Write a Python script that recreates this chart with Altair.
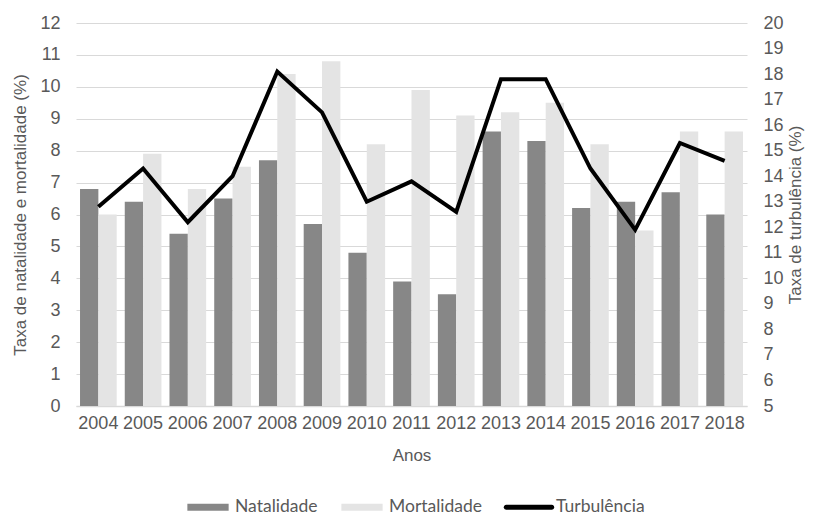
import altair as alt
import pandas as pd

anos = ["2004", "2005", "2006", "2007", "2008", "2009", "2010", "2011",
        "2012", "2013", "2014", "2015", "2016", "2017", "2018"]
natalidade = [6.8, 6.4, 5.4, 6.5, 7.7, 5.7, 4.8, 3.9, 3.5, 8.6, 8.3, 6.2, 6.4, 6.7, 6.0]
mortalidade = [6.0, 7.9, 6.8, 7.5, 10.4, 10.8, 8.2, 9.9, 9.1, 9.2, 9.5, 8.2, 5.5, 8.6, 8.6]
turbulencia = [12.8, 14.3, 12.2, 14.0, 18.1, 16.5, 13.0, 13.8, 12.6, 17.8, 17.8, 14.3, 11.9, 15.3, 14.6]
series = ["Natalidade", "Mortalidade", "Turbulência"]
cores = ["#878787", "#e4e4e4", "#000000"]
ticks_esq = [0, 1, 2, 3, 4, 5, 6, 7, 8, 9, 10, 11, 12]
ticks_dir = [5, 6, 7, 8, 9, 10, 11, 12, 13, 14, 15, 16, 17, 18, 19, 20]

rows = []
for a, n, m in zip(anos, natalidade, mortalidade):
    rows.append({"Ano": a, "Serie": "Natalidade", "Valor": n})
    rows.append({"Ano": a, "Serie": "Mortalidade", "Valor": m})
df_bars = pd.DataFrame(rows)
df_line = pd.DataFrame({"Ano": anos, "Turb": turbulencia})
df_leg = pd.DataFrame({"Serie": series})

FONT = "Liberation Sans"
GRAY = "#595959"

color_scale = alt.Scale(domain=series, range=cores)
shape_scale = alt.Scale(
    domain=series,
    range=[
        "M-0.86,-0.15H0.86V0.15H-0.86Z",
        "M-0.86,-0.15H0.86V0.15H-0.86Z",
        "M-0.95,-0.1H0.95A0.1,0.1 0 0 1 0.95,0.1H-0.95A0.1,0.1 0 0 1 -0.95,-0.1Z",
    ],
)
legend = alt.Legend(
    title=None, orient="none", legendX=108, legendY=460, direction="horizontal",
    symbolSize=2304, symbolStrokeWidth=0, labelFont="Lato", labelFontSize=17.5,
    labelColor=GRAY, labelOffset=3, columnPadding=20, padding=0,
)

x_enc = alt.X(
    "Ano:N", sort=anos,
    scale=alt.Scale(paddingInner=0.18, paddingOuter=0.09),
    axis=alt.Axis(title="Anos", labelAngle=0, labelFont=FONT, labelFontSize=18,
                  labelColor=GRAY, labelPadding=8, ticks=False, tickSize=0,
                  domainColor="#d9d9d9", domainWidth=1.5, grid=False,
                  titleFont=FONT, titleFontSize=17, titleColor=GRAY,
                  titleFontWeight="normal", titlePadding=15),
)

bars = alt.Chart(df_bars).mark_bar().encode(
    x=x_enc,
    xOffset=alt.XOffset("Serie:N", sort=["Natalidade", "Mortalidade"],
                        scale=alt.Scale(domain=["Natalidade", "Mortalidade"],
                                        paddingInner=0, paddingOuter=0)),
    y=alt.Y("Valor:Q", scale=alt.Scale(domain=[0, 12], nice=False),
            axis=alt.Axis(title="Taxa de natalidade e mortalidade (%)",
                          values=ticks_esq, labelOverlap=False,
                          labelFont=FONT, labelFontSize=18,
                          labelColor=GRAY, labelPadding=16, ticks=False, tickSize=0,
                          domain=False, grid=True, gridColor="#d9d9d9",
                          titleFont=FONT, titleFontSize=17, titleColor=GRAY,
                          titleFontWeight="normal", titlePadding=10)),
    color=alt.Color("Serie:N", scale=color_scale, legend=legend),
)

line = alt.Chart(df_line).mark_line(color="black", strokeWidth=4,
                                    strokeJoin="miter").encode(
    x=alt.X("Ano:N", sort=anos),
    y=alt.Y("Turb:Q", scale=alt.Scale(domain=[5, 20], nice=False),
            axis=alt.Axis(orient="right", title="Taxa de turbulência (%)",
                          values=ticks_dir, labelOverlap=False,
                          labelFont=FONT, labelFontSize=18,
                          labelColor=GRAY, labelPadding=16, ticks=False, tickSize=0,
                          domain=False, grid=False,
                          titleFont=FONT, titleFontSize=17, titleColor=GRAY,
                          titleFontWeight="normal", titlePadding=4,
                          titleAngle=270, titleBaseline="top")),
)

legpts = alt.Chart(df_leg).mark_point(filled=True, opacity=1).encode(
    color=alt.Color("Serie:N", scale=color_scale, legend=legend),
    shape=alt.Shape("Serie:N", scale=shape_scale, legend=legend),
).transform_filter("false")

chart = alt.layer(bars, line, legpts).resolve_scale(
    y="independent"
).properties(
    width=671, height=383,
    autosize=alt.AutoSizeParams(type="none"),
    padding={"left": 68, "top": 15, "right": 58, "bottom": 111},
).configure_view(stroke=None)

chart.save("out.html", embed_options={"renderer": "svg", "actions": False})
